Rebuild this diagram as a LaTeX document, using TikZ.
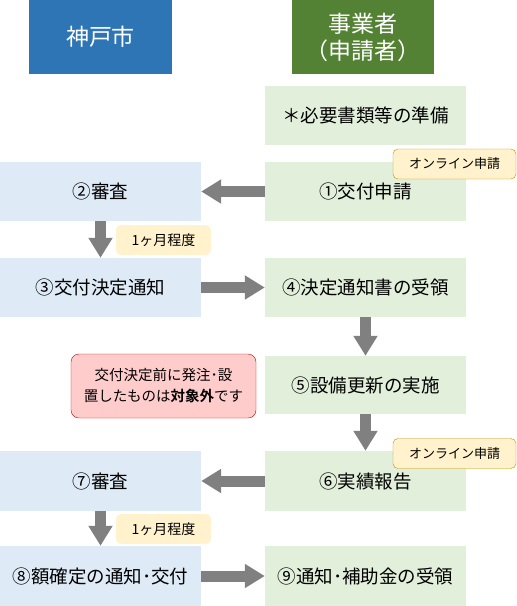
\documentclass[tikz,border=0pt]{standalone}
\usepackage{fontspec}
\setmainfont{Noto Sans CJK JP}
\newfontfamily\jpbold{Noto Sans CJK JP Bold}
\usetikzlibrary{arrows.meta}

\definecolor{cityblue}{HTML}{2E75B6}
\definecolor{firmgreen}{HTML}{548235}
\definecolor{cityfill}{HTML}{DEEBF7}
\definecolor{firmfill}{HTML}{E2EFDA}
\definecolor{tagfill}{HTML}{FFF2CC}
\definecolor{tagline}{HTML}{BF9000}
\definecolor{notefill}{HTML}{FFCCCC}
\definecolor{noteline}{HTML}{D00000}

\tikzset{
  head/.style={minimum width=143pt, minimum height=74pt, inner sep=0pt,
    text=white, font=\fontsize{23}{27}\selectfont, align=center},
  citybox/.style={fill=cityfill, minimum width=201pt, minimum height=59pt,
    inner sep=0pt, font=\fontsize{18.5}{21}\selectfont},
  firmbox/.style={citybox, fill=firmfill},
  onltag/.style={fill=tagfill, draw=tagline, rounded corners=5pt,
    minimum width=123pt, minimum height=30pt, inner sep=0pt,
    font=\fontsize{13}{15}\selectfont},
  timetag/.style={fill=tagfill, rounded corners=5pt, minimum width=95pt,
    minimum height=30pt, inner sep=0pt, font=\fontsize{14}{16}\selectfont},
  flow/.style={draw=gray, line width=11pt,
    -{Triangle[length=20pt,width=23pt]}},
}

\begin{document}
\begin{tikzpicture}[x=1pt,y=-1pt]
  \useasboundingbox (0,0) rectangle (517,606);

  % column heads
  \node[head, fill=cityblue] (city) at (100.5,37) {神戸市};
  \node[head, fill=firmgreen, minimum width=142pt] (firm) at (363,37)
    {事業者\\（申請者）};

  % steps
  \node[firmbox] (prep) at (365.5,115.5) {＊必要書類等の準備};
  \node[firmbox] (s1) at (365.5,191.5) {①交付申請};
  \node[citybox] (s2) at (100.5,191.5) {②審査};
  \node[citybox] (s3) at (100.5,287.5) {③交付決定通知};
  \node[firmbox] (s4) at (365.5,287.5) {④決定通知書の受領};
  \node[firmbox, minimum height=58pt] (s5) at (365.5,385) {⑤設備更新の実施};
  \node[firmbox, minimum height=60pt] (s6) at (365.5,481) {⑥実績報告};
  \node[citybox, minimum height=60pt] (s7) at (100.5,481) {⑦審査};
  \node[citybox, minimum height=60pt] (s8) at (100.5,576) {⑧額確定の通知･交付};
  \node[firmbox, minimum height=60pt] (s9) at (365.5,576) {⑨通知･補助金の受領};

  % notes
  \node[onltag] (onl1) at (454.5,164) {オンライン申請};
  \node[onltag] (onl2) at (454.5,453.5) {オンライン申請};
  \node[timetag] (t1) at (163.5,240) {1ヶ月程度};
  \node[timetag] (t2) at (163.5,529) {1ヶ月程度};
  \node[fill=notefill, draw=noteline, rounded corners=8pt, minimum width=185pt,
    minimum height=64pt, inner sep=0pt, align=center,
    font=\fontsize{14.5}{21}\selectfont] (warn) at (163.5,386)
    {交付決定前に発注･設\\置したものは{\jpbold 対象外}です};

  % arrows
  \draw[flow] (s1) -- (s2);
  \draw[flow] (s2) -- (s3);
  \draw[flow] (s3) -- (s4);
  \draw[flow] (s4) -- (s5);
  \draw[flow] (s5) -- (s6);
  \draw[flow] (s6) -- (s7);
  \draw[flow] (s7) -- (s8);
  \draw[flow] (s8) -- (s9);
\end{tikzpicture}
\end{document}
